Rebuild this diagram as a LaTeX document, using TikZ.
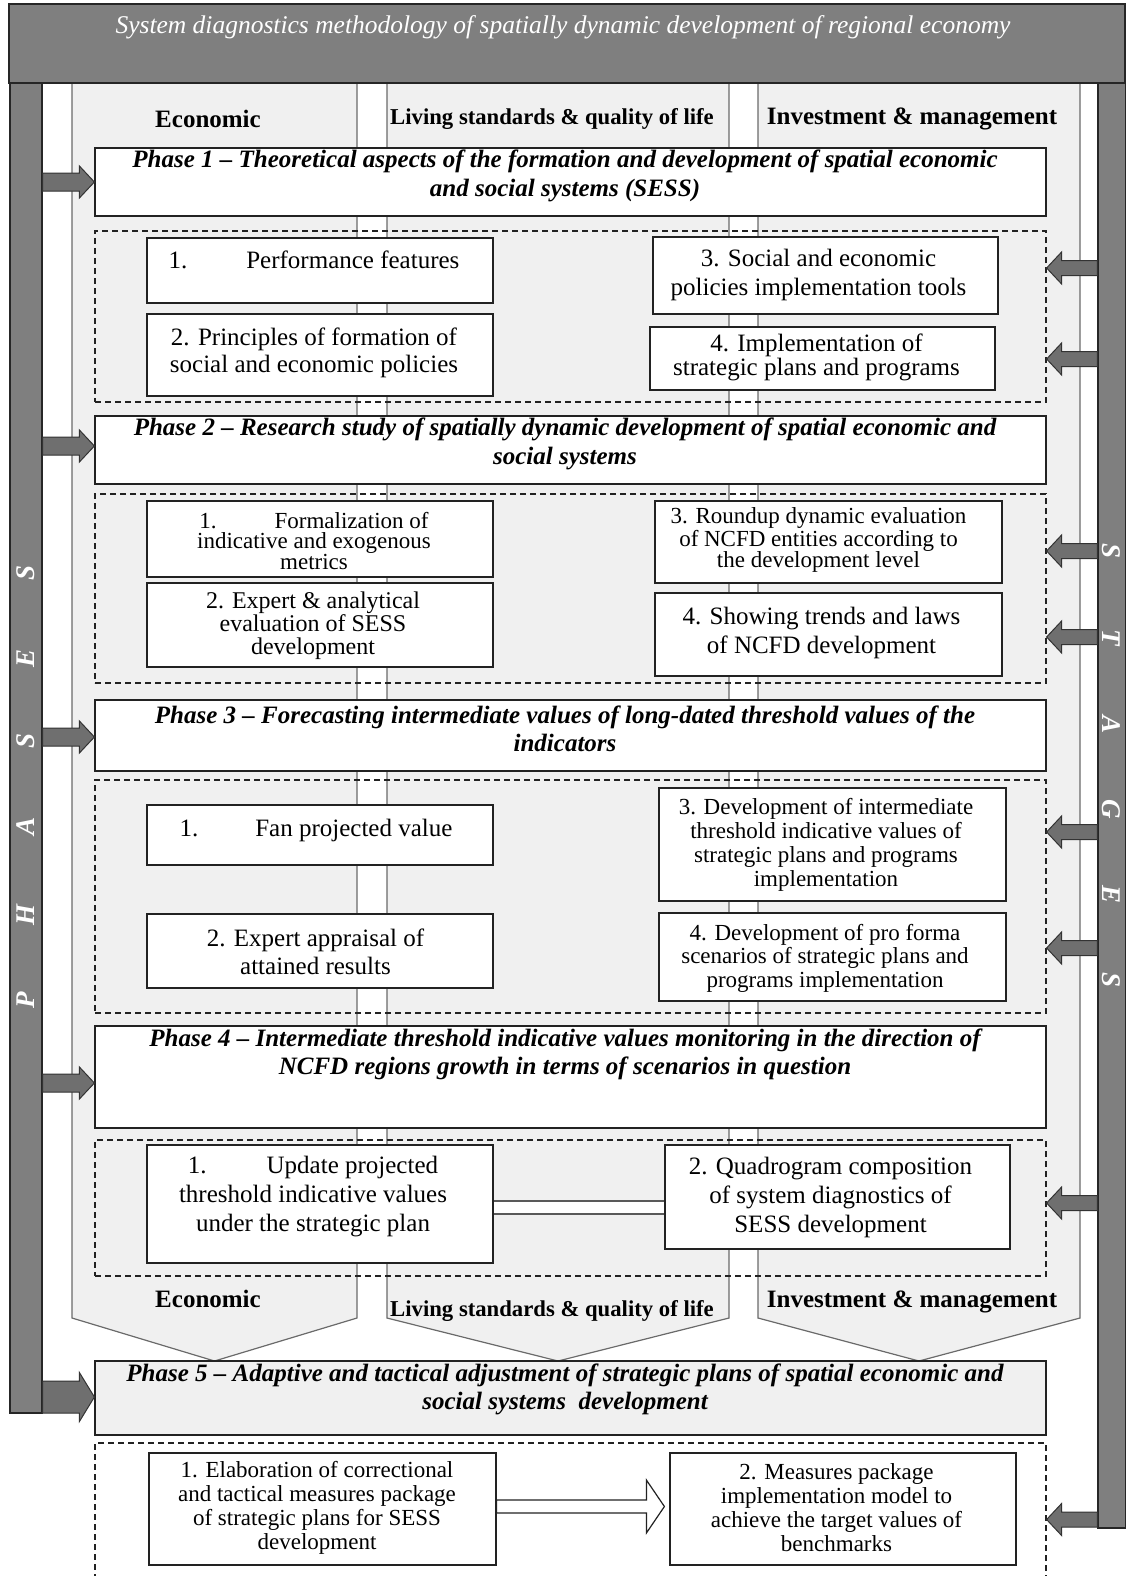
\documentclass[tikz,border=0pt]{standalone}
\usepackage{fontspec}
\setmainfont{Liberation Serif}
\usetikzlibrary{calc}
\definecolor{bargray}{HTML}{7F7F7F}
\definecolor{arrgray}{HTML}{6F6F6F}
\definecolor{colfill}{HTML}{F0F0F0}
\definecolor{coledge}{HTML}{6A6A6A}
\definecolor{boxline}{HTML}{222222}
\newcommand\fs[2]{\fontsize{#1}{#2}\selectfont}
% horizontal block arrow: style, start, tip, shaft half, head half, head length (signed)
\newcommand\blockarrow[6]{%
  \filldraw[#1] let \p1=#2, \p2=#3 in
   (\x1,{\y2+#4}) -- ({\x2-(#6)},{\y2+#4}) -- ({\x2-(#6)},{\y2+#5}) -- (\x2,\y2)
   -- ({\x2-(#6)},{\y2-#5}) -- ({\x2-(#6)},{\y2-#4}) -- (\x1,{\y2-#4}) -- cycle;}
% box with text: name, x1, y1, x2, y2, font style, dx, dy, text
\newcommand\bx[9]{%
  \node[box, minimum width={#4-#2}, minimum height={#5-#3}] (#1) at ({(#2+#4)/2},{(#3+#5)/2}) {};
  \node[boxtxt, #6] (#1t) at ($(#1.center)+(#7,#8)$) {#9};}
\tikzset{
  bigbar/.style={fill=bargray, draw=black!85, line width=1.2pt, inner sep=0pt},
  colshape/.style={fill=colfill, draw=coledge, line width=1.2pt},
  hdr/.style={font=\fs{25}{28}\bfseries, inner sep=0pt},
  phasebox/.style={draw=boxline, line width=1.2pt, fill=white, inner sep=0pt, minimum width=951},
  phasetxt/.style={font=\fs{25}{28.5}\bfseries\itshape, align=center, inner sep=0pt},
  grp/.style={draw=boxline, line width=1.2pt, dash pattern=on 6pt off 4pt, inner sep=0pt, minimum width=951},
  box/.style={draw=boxline, line width=1.2pt, fill=white, inner sep=0pt},
  boxtxt/.style={align=center, inner sep=0pt},
  garrow/.style={fill=arrgray, draw=black!80, line width=1pt},
  harrow/.style={fill=white, draw=boxline, line width=1.2pt},
  dbl/.style={draw=black!65, line width=1.1pt, double=white, double distance=11.9pt, shorten <=0.6pt, shorten >=0.6pt},
  barletter/.style={text=white, font=\fs{27}{27}\bfseries\itshape, inner sep=0pt},
  titletxt/.style={text=white, font=\fs{25.5}{28}\itshape, inner sep=0pt},
}
\begin{document}
\begin{tikzpicture}[x=1pt,y=-1pt]
\useasboundingbox (0,0) rectangle (1125,1576);
% columns
\draw[colshape] (72,83) -- (72,1318) -- (214.5,1361) -- (357,1318) -- (357,83);
\draw[colshape] (387,83) -- (387,1318) -- (558,1361) -- (729,1318) -- (729,83);
\draw[colshape] (758,83) -- (758,1318) -- (919,1361) -- (1080,1318) -- (1080,83);
% title and side bars
\node[bigbar, minimum width=1116, minimum height=79] (title) at (567,43.5) {};
\node[titletxt] (titlet) at (563,27) {System diagnostics methodology of spatially dynamic development of regional economy};
\node[bigbar, minimum width=32, minimum height=1330] (lbar) at (26,748) {};
\node[bigbar, minimum width=28, minimum height=1445] (rbar) at (1112,805.5) {};
% column headers
\node[hdr] (hE) at (208,119) {Economic};
\node[hdr, font=\fs{22.7}{26}\bfseries] (hL) at (552,119) {Living standards \& quality of life};
\node[hdr] (hI) at (912,119) {Investment \& management};
\node[hdr] (hE2) at (208,1299) {Economic};
\node[hdr, font=\fs{22.7}{26}\bfseries] (hL2) at (552,1311) {Living standards \& quality of life};
\node[hdr] (hI2) at (912,1302) {Investment \& management};
% phase boxes
\node[phasebox, minimum height=68] (P1) at (570.5,182) {};
\node[phasetxt] (P1t) at (565,176) {Phase 1 – Theoretical aspects of the formation and development of spatial economic\\and social systems (SESS)};
\node[phasebox, minimum height=68] (P2) at (570.5,450) {};
\node[phasetxt] (P2t) at (565,444) {Phase 2 – Research study of spatially dynamic development of spatial economic and\\social systems};
\node[phasebox, minimum height=71] (P3) at (570.5,735.5) {};
\node[phasetxt] (P3t) at (565,729) {Phase 3 – Forecasting intermediate values of long-dated threshold values of the\\indicators};
\node[phasebox, minimum height=102] (P4) at (570.5,1077) {};
\node[phasetxt] (P4t) at (565,1054.5) {Phase 4 – Intermediate threshold indicative values monitoring in the direction of\\NCFD regions growth in terms of scenarios in question};
\node[phasebox, minimum height=74, fill=colfill] (P5) at (570.5,1398) {};
\node[phasetxt] (P5t) at (565,1389.5) {Phase 5 – Adaptive and tactical adjustment of strategic plans of spatial economic and\\social systems\ \ development};
% dashed groups
\node[grp, minimum height=171] (DG1) at (570.5,316.5) {};
\node[grp, minimum height=189] (DG2) at (570.5,588.5) {};
\node[grp, minimum height=233] (DG3) at (570.5,896.5) {};
\node[grp, minimum height=136] (DG4) at (570.5,1208) {};
\node[grp, minimum height=167] (DG5) at (570.5,1526.5) {};
% group 1
\bx{G1B1}{147}{238}{493}{303}{font=\fs{25}{27}}{-6}{-11}{1.\hspace{59pt}Performance features}
\bx{G1B2}{147}{314}{493}{396}{font=\fs{25}{27}}{-6}{-2}{2. Principles of formation of\\social and economic policies}
\bx{G1B3}{653}{237}{998}{314}{font=\fs{25}{29}}{-7}{-1}{3. Social and economic\\policies implementation tools}
\bx{G1B4}{650}{327}{995}{390}{font=\fs{25}{22}}{-6}{-1}{4. Implementation of\\strategic plans and programs}
% group 2
\bx{G2B1}{147}{501}{493}{577}{font=\fs{23}{20.5}}{-6}{2}{1.\hspace{58pt}Formalization of\\indicative and exogenous\\metrics}
\bx{G2B2}{147}{583}{493}{667}{font=\fs{24}{23}}{-7}{1}{2. Expert \& analytical\\evaluation of SESS\\development}
\bx{G2B3}{655}{501}{1002}{583}{font=\fs{23}{21}}{-10}{-2}{3. Roundup dynamic evaluation\\of NCFD entities according to\\the development level}
\bx{G2B4}{655}{593}{1002}{676}{font=\fs{25}{29}}{-7}{-2}{4. Showing trends and laws\\of NCFD development}
% group 3
\bx{G3B1}{147}{805}{493}{865}{font=\fs{25}{27}}{-4}{-5}{1.\hspace{57pt}Fan projected value}
\bx{G3B2}{147}{914}{493}{988}{font=\fs{25}{28}}{-4.5}{1}{2. Expert appraisal of\\attained results}
\bx{G3B3}{659}{788}{1006}{901}{font=\fs{23}{24}}{-6.5}{0}{3. Development of intermediate\\threshold indicative values of\\strategic plans and programs\\implementation}
\bx{G3B4}{659}{913}{1006}{1001}{font=\fs{23}{23.5}}{-7.5}{1}{4. Development of pro forma\\scenarios of strategic plans and\\programs implementation}
% group 4
\bx{G4B1}{147}{1145}{493}{1263}{font=\fs{25}{29}}{-7}{-7}{1.\hspace{60pt}Update projected\\threshold indicative values\\under the strategic plan}
\bx{G4B2}{665}{1145}{1010}{1249}{font=\fs{25}{29}}{-7}{0}{2. Quadrogram composition\\of system diagnostics of\\SESS development}
\coordinate (c4) at (0,1207.5);
\draw[dbl] (G4B1.east |- c4) -- (G4B2.west |- c4);
% group 5
\bx{G5B1}{149}{1453}{496}{1565}{font=\fs{23}{24}}{-5.5}{-1}{1. Elaboration of correctional\\and tactical measures package\\of strategic plans for SESS\\development}
\bx{G5B2}{670}{1453}{1016}{1565}{font=\fs{23}{24}}{-6.5}{-1}{2. Measures package\\implementation model to\\achieve the target values of\\benchmarks}
\coordinate (c5) at (0,1506.5);
\blockarrow{harrow}{(G5B1.east |- c5)}{($(G5B2.west |- c5)+(-5,0)$)}{6.5pt}{26.5pt}{18pt}
% left arrows (phases)
\coordinate (la1) at (P1.west);
\coordinate (la2) at ([yshift=4pt]P2.west);
\coordinate (la3) at ([yshift=-1.5pt]P3.west);
\coordinate (la4) at ([yshift=-6pt]P4.west);
\coordinate (la5) at ([yshift=1pt]P5.west);
\blockarrow{garrow}{(lbar.east |- la1)}{(la1)}{9pt}{16pt}{15pt}
\blockarrow{garrow}{(lbar.east |- la2)}{(la2)}{9pt}{16pt}{15pt}
\blockarrow{garrow}{(lbar.east |- la3)}{(la3)}{9pt}{16pt}{15pt}
\blockarrow{garrow}{(lbar.east |- la4)}{(la4)}{9pt}{16pt}{15pt}
\blockarrow{garrow}{(lbar.east |- la5)}{(la5)}{16pt}{24.5pt}{15pt}
% right arrows (stages)
\coordinate (y1) at (0,268);
\coordinate (y2) at (0,359);
\coordinate (y3) at (0,551);
\coordinate (y4) at (0,637);
\coordinate (y5) at (0,832);
\coordinate (y6) at (0,948);
\coordinate (y7) at (0,1203);
\coordinate (y8) at (0,1519.5);
\coordinate (ra1) at (DG1.east |- y1);
\coordinate (ra2) at (DG1.east |- y2);
\coordinate (ra3) at (DG2.east |- y3);
\coordinate (ra4) at (DG2.east |- y4);
\coordinate (ra5) at (DG3.east |- y5);
\coordinate (ra6) at (DG3.east |- y6);
\coordinate (ra7) at (DG4.east |- y7);
\coordinate (ra8) at (DG5.east |- y8);
\foreach \r in {ra1,ra2,ra3,ra4,ra5,ra6,ra7,ra8}{
  \blockarrow{garrow}{(rbar.west |- \r)}{(\r)}{7.5pt}{16pt}{-15pt}
}
% bar letters
\node[barletter, rotate=90] (lP) at (26,1000) {P};
\node[barletter, rotate=90] (lH) at (26,915) {H};
\node[barletter, rotate=90] (lA) at (26,826) {A};
\node[barletter, rotate=90] (lS1) at (26,741) {S};
\node[barletter, rotate=90] (lE) at (26,658) {E};
\node[barletter, rotate=90] (lS2) at (26,573) {S};
\node[barletter, rotate=-90] (rS1) at (1111,551) {S};
\node[barletter, rotate=-90] (rT) at (1111,638) {T};
\node[barletter, rotate=-90] (rA) at (1111,724) {A};
\node[barletter, rotate=-90] (rG) at (1111,809) {G};
\node[barletter, rotate=-90] (rE) at (1111,894) {E};
\node[barletter, rotate=-90] (rS2) at (1111,980) {S};
\end{tikzpicture}
\end{document}
